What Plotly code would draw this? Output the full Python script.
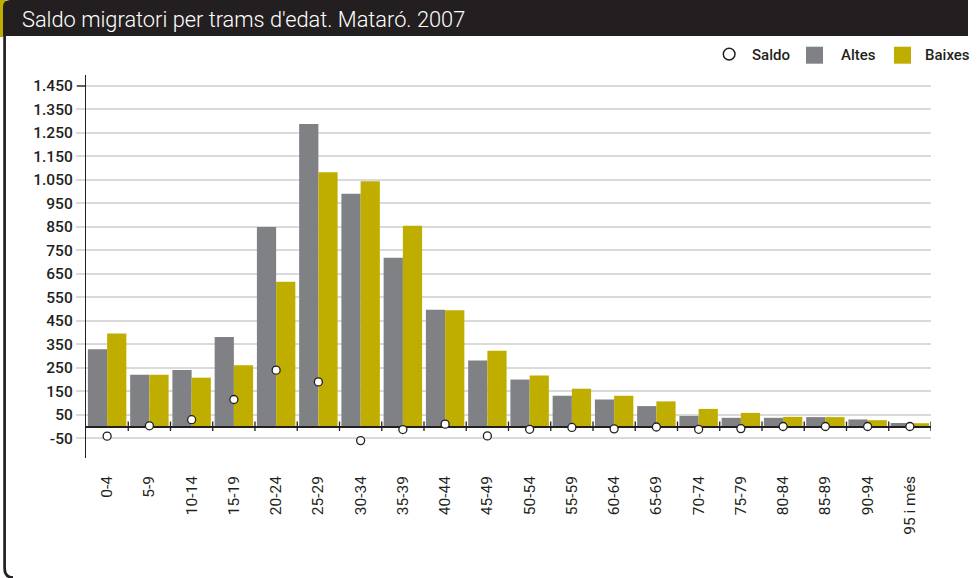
import plotly.graph_objects as go

W, H = 977, 578

# Age bands (trams d'edat)
age_groups = ["0-4", "5-9", "10-14", "15-19", "20-24", "25-29", "30-34", "35-39",
              "40-44", "45-49", "50-54", "55-59", "60-64", "65-69", "70-74", "75-79",
              "80-84", "85-89", "90-94", "95 i més"]

# Registered moves in (altes) and out (baixes), and net balance (saldo)
altes = [329, 220, 241, 381, 850, 1288, 991, 719, 497, 281,
         200, 131, 115, 87, 45, 37, 37, 40, 30, 15]
baixes = [396, 220, 208, 261, 616, 1083, 1044, 855, 495, 323,
          217, 161, 131, 107, 75, 58, 41, 40, 27, 14]
saldo = [-41, 3, 29, 115, 240, 190, -60, -13, 10, -40,
         -12, -4, -10, -2, -12, -9, 0, 0, 0, 0]

y_tick_values = [-50, 50, 150, 250, 350, 450, 550, 650, 750, 850, 950,
                 1050, 1150, 1250, 1350, 1450]
y_tick_labels = ["-50", "50", "150", "250", "350", "450", "550", "650", "750",
                 "850", "950", "1.050", "1.150", "1.250", "1.350", "1.450"]

DARK = "#231f20"
GRAY = "#808185"
GOLD = "#bfae00"
GRID = "#dadada"
FONT = "Roboto, Liberation Sans, Arial, sans-serif"


def px(v):
    return v / W


def py(v):
    return 1 - v / H


x_dom = [px(86), px(931)]
y_dom = [py(458), py(75)]
y_range = [-134.1, 1496.8]
x_range = [-0.5, len(age_groups) - 0.5]

fig = go.Figure()
fig.add_trace(go.Bar(x=age_groups, y=altes, name="Altes", marker_color=GRAY,
                     marker_line_width=0, xaxis="x", yaxis="y"))
fig.add_trace(go.Bar(x=age_groups, y=baixes, name="Baixes", marker_color=GOLD,
                     marker_line_width=0, xaxis="x", yaxis="y"))
# Net balance drawn on a twin subplot so it sits above the zero line
fig.add_trace(go.Scatter(x=age_groups, y=saldo, name="Saldo", mode="markers",
                         marker=dict(symbol="circle", size=8, color="white",
                                     line=dict(color=DARK, width=1.3)),
                         xaxis="x2", yaxis="y2"))

shapes = []
# Header bar with gold corner
shapes.append(dict(type="rect", xref="paper", yref="paper",
                   x0=px(0), x1=px(6), y0=py(37), y1=py(0),
                   fillcolor=GOLD, line=dict(width=0), layer="above"))
hdr = (f"M {px(3)},{py(36)} L {px(3)},{py(7)} Q {px(3)},{py(0)} {px(10)},{py(0)} "
       f"L {px(968)},{py(0)} L {px(968)},{py(36)} Z")
shapes.append(dict(type="path", xref="paper", yref="paper", path=hdr,
                   fillcolor=DARK, line=dict(width=0), layer="above"))
# Left frame edge
edge = (f"M {px(4.6)},{py(36)} L {px(4.6)},{py(568)} "
        f"Q {px(4.6)},{py(577.5)} {px(13)},{py(577.5)}")
shapes.append(dict(type="path", xref="paper", yref="paper", path=edge,
                   line=dict(color=DARK, width=2.7), fillcolor="rgba(0,0,0,0)",
                   layer="above"))
# Category boundary ticks on the zero line
for k in range(len(age_groups)):
    shapes.append(dict(type="line", xref="x", yref="y", x0=k + 0.5, x1=k + 0.5,
                       y0=-19, y1=21, line=dict(color=DARK, width=1.3),
                       layer="above"))
# Top tick of the value axis
shapes.append(dict(type="line", xref="paper", yref="y", x0=px(77), x1=px(86),
                   y0=y_tick_values[-1], y1=y_tick_values[-1],
                   line=dict(color=DARK, width=1.3), layer="above"))

# Custom legend
shapes.append(dict(type="circle", xref="paper", yref="paper",
                   x0=px(723.3), x1=px(735), y0=py(59.9), y1=py(48.2),
                   fillcolor="white", line=dict(color=DARK, width=1.5),
                   layer="above"))
shapes.append(dict(type="rect", xref="paper", yref="paper",
                   x0=px(806), x1=px(823), y0=py(63.7), y1=py(46.7),
                   fillcolor=GRAY, line=dict(width=0), layer="above"))
shapes.append(dict(type="rect", xref="paper", yref="paper",
                   x0=px(894), x1=px(911), y0=py(63.7), y1=py(46.7),
                   fillcolor=GOLD, line=dict(width=0), layer="above"))

legend_font = dict(family=FONT, size=15, color=DARK, weight=500)
annotations = [
    dict(text="Saldo", x=px(750), y=py(55), xref="paper", yref="paper",
         xanchor="left", yanchor="middle", showarrow=False, font=legend_font),
    dict(text="Altes", x=px(839), y=py(55), xref="paper", yref="paper",
         xanchor="left", yanchor="middle", showarrow=False, font=legend_font),
    dict(text="Baixes", x=px(923), y=py(55), xref="paper", yref="paper",
         xanchor="left", yanchor="middle", showarrow=False, font=legend_font),
]

ytick_font = dict(family=FONT, size=15.5, color=DARK, weight=500)
xtick_font = dict(family=FONT, size=15.5, color=DARK)

fig.update_layout(
    width=W, height=H,
    margin=dict(l=0, r=0, t=0, b=0, pad=0),
    paper_bgcolor="white", plot_bgcolor="rgba(0,0,0,0)",
    showlegend=False,
    barmode="group", bargap=0.09, bargroupgap=0,
    title=dict(text="Saldo migratori per trams d'edat. Mataró. 2007",
               x=px(22), xanchor="left", y=py(19), yanchor="middle",
               font=dict(family=FONT, size=21.8, color="white", weight=300)),
    xaxis=dict(domain=x_dom, anchor="y", type="category",
               categoryorder="array", categoryarray=age_groups, range=x_range,
               showgrid=False, zeroline=False, showline=False, ticks="",
               tickangle=-90, tickfont=xtick_font, ticklabelstandoff=14,
               fixedrange=True),
    yaxis=dict(domain=y_dom, anchor="x", range=y_range,
               tickmode="array", tickvals=y_tick_values, ticktext=y_tick_labels,
               showgrid=True, gridcolor=GRID, gridwidth=2, zeroline=False,
               showline=True, linecolor=DARK, linewidth=1.3,
               ticks="outside", ticklen=9, tickwidth=2, tickcolor=GRID,
               tickfont=ytick_font, fixedrange=True),
    xaxis2=dict(domain=x_dom, anchor="y2", type="category",
                categoryorder="array", categoryarray=age_groups, range=x_range,
                visible=False, fixedrange=True),
    yaxis2=dict(domain=y_dom, anchor="x2", range=y_range,
                showgrid=False, showticklabels=False, ticks="", showline=False,
                zeroline=True, zerolinecolor=DARK, zerolinewidth=1.6,
                fixedrange=True),
    shapes=shapes,
    annotations=annotations,
)

fig.write_html("out.html")
